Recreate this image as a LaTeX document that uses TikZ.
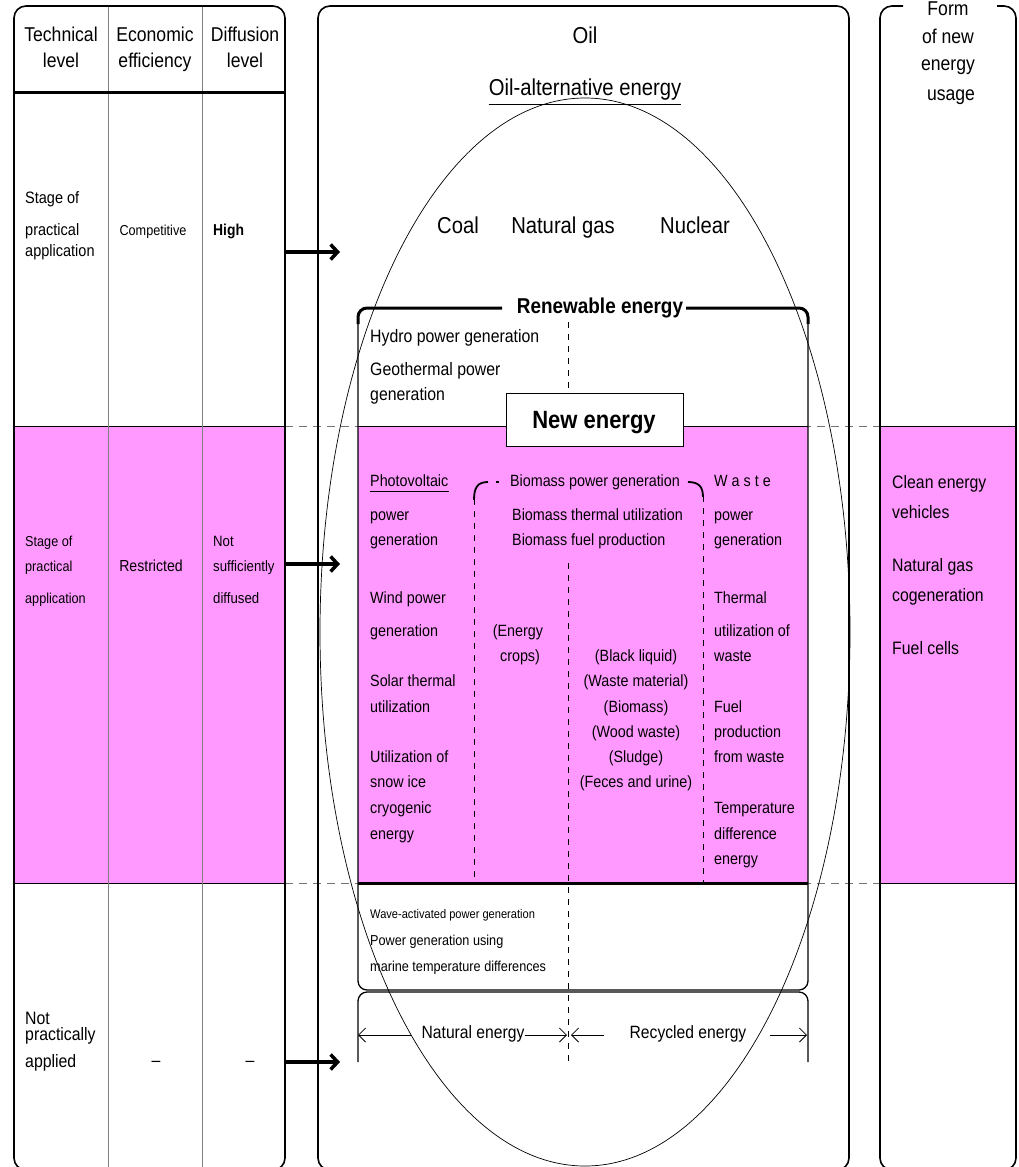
\documentclass[tikz,border=0pt]{standalone}
\usepackage{fontspec}
\setmainfont{Liberation Sans}[FakeStretch=0.88]
\usetikzlibrary{arrows.meta}
\definecolor{pinkfill}{RGB}{255,153,255}
\newcommand\fsz[1]{\fontsize{#1}{#1}\selectfont}
\begin{document}
\begin{tikzpicture}[x=1pt,y=-1pt,
  lt/.style={inner sep=0pt, anchor=mid west},
  ct/.style={inner sep=0pt, anchor=mid},
  panel/.style={line width=1.6pt, rounded corners=12pt},
  colrule/.style={draw=gray, line width=0.9pt},
  band/.style={dash pattern=on 8pt off 6pt, draw=gray!90!black, line width=0.9pt},
  vdash/.style={dash pattern=on 6pt off 6pt, line width=0.8pt},
  bigarrow/.style={line width=3.5pt, -{Straight Barb[length=7pt,width=15pt]}},
  spanarrow/.style={line width=0.8pt, -{Straight Barb[length=7pt,width=14pt]}},
  hdr/.style={font=\fsz{20}},
  big/.style={font=\fsz{23}},
  mid/.style={font=\fsz{18}},
  pk/.style={font=\fsz{16.3}},
]
\useasboundingbox (0,0) rectangle (1018,1167);
\fill[white] (0,0) rectangle (1018,1167);

% pink band of "stage of practical application / restricted"
\fill[pinkfill] (14,426) rectangle (285,883);
\fill[pinkfill] (358,426) rectangle (808,883);
\fill[pinkfill] (880,426) rectangle (1016,883);

% band boundaries
\draw[band] (285,426) -- (880,426);
\draw[band] (285,883) -- (880,883);
\draw[line width=0.9pt] (14,426) -- (285,426) (14,883) -- (285,883);
\draw[line width=0.9pt] (880,426) -- (1016,426) (880,883) -- (1016,883);
\draw[line width=0.9pt] (358,426) -- (808,426);
\draw[line width=3pt] (358,883) -- (808,883);

% left table
\draw[colrule] (108,6) -- (108,1167) (202,6) -- (202,1167);
\draw[line width=3pt] (14,92) -- (285,92);

% three panels
\draw[panel] (14,6) rectangle (285,1170);
\draw[panel] (318,6) rectangle (849,1170);
\draw[panel] (903,6) -- (880,6) -- (880,1170) -- (1016,1170) -- (1016,6) -- (997,6);

% renewable energy frame
\draw[line width=1.3pt, rounded corners=9pt] (358,322) -- (358,990) -- (808,990) -- (808,322);
\draw[line width=3pt, rounded corners=9pt] (502,308) -- (358,308) -- (358,324);
\draw[line width=3pt, rounded corners=9pt] (686,308) -- (808,308) -- (808,324);
% natural / recycled bracket
\draw[line width=1.3pt, rounded corners=9pt] (358,1062) -- (358,992) -- (808,992) -- (808,1062);

% biomass bracket
\draw[vdash] (474,499) -- (474,883);
\draw[vdash] (703,496) -- (703,883);
\draw[line width=1.8pt] (474,500) .. controls (474,487) and (478,482) .. (488,482);
\draw[line width=1.8pt] (496,482) -- (499,482);
\draw[line width=1.8pt] (688,482) .. controls (698,482) and (703,486) .. (703,497);

% oil-alternative energy ellipse
\draw[line width=0.7pt] (585,632) ellipse [x radius=265, y radius=534];

% new energy box
\node[draw, fill=white, line width=0.9pt, minimum width=177pt, minimum height=53pt, inner sep=0pt] (newbox) at (594.5,419.5) {};
\node[ct, font=\bfseries\fsz{25}] (newtxt) at (594,426) {New energy};

% natural / recycled divider
\coordinate (divtop) at (568,322);
\coordinate (divmid) at (568,563);
\coordinate (divbot) at (568,1062);
\draw[vdash] (divtop) -- (newbox.north -| divtop);
\draw[vdash] (divmid) -- (divbot);

% ---- left table text ----
\node[ct, hdr] (h1a) at (61,39) {Technical};
\node[ct, hdr] (h1b) at (61,65) {level};
\node[ct, hdr] (h2a) at (155,39) {Economic};
\node[ct, hdr] (h2b) at (155,65) {efficiency};
\node[ct, hdr] (h3a) at (245,39) {Diffusion};
\node[ct, hdr] (h3b) at (245,65) {level};

\node[lt, font=\fsz{16.5}] (s1a) at (25,201) {Stage of};
\node[lt, font=\fsz{16.5}] (s1b) at (25,233) {practical};
\node[lt, font=\fsz{16.5}] (s1c) at (25,254) {application};
\node[ct, font=\fsz{14.4}] (e1) at (153,233) {Competitive};
\node[lt, font=\bfseries\fsz{15.8}] (d1) at (213,233) {High};

\node[lt, font=\fsz{14.4}] (s2a) at (25,544) {Stage of};
\node[lt, font=\fsz{14.4}] (s2b) at (25,569) {practical};
\node[lt, font=\fsz{14.4}] (s2c) at (25,601) {application};
\node[ct, font=\fsz{16}] (e2) at (151,569) {Restricted};
\node[lt, font=\fsz{15}] (d2a) at (213,544) {Not};
\node[lt, font=\fsz{15}] (d2b) at (213,569) {sufficiently};
\node[lt, font=\fsz{15}] (d2c) at (213,601) {diffused};

\node[lt, mid] (s3a) at (25,1022) {Not};
\node[lt, mid] (s3b) at (25,1038) {practically};
\node[lt, mid] (s3c) at (25,1065) {applied};
\node[ct, mid] (e3) at (156,1064) {–};
\node[ct, mid] (d3) at (250,1064) {–};

% arrows into the energy panel
\coordinate (a1s) at (285,252); \coordinate (a1e) at (340,252);
\coordinate (a2s) at (285,564); \coordinate (a2e) at (340,564);
\coordinate (a3s) at (285,1062); \coordinate (a3e) at (340,1062);
\draw[bigarrow] (a1s) -- (a1e);
\draw[bigarrow] (a2s) -- (a2e);
\draw[bigarrow] (a3s) -- (a3e);

% ---- middle panel text ----
\node[ct, big] (oil) at (585,41) {Oil};
\node[ct, big] (oalt) at (585,93) {Oil-alternative energy};
\draw[line width=0.8pt] ([yshift=-9pt]oalt.base west) -- ([yshift=-9pt]oalt.base east);
\node[ct, big] (coal) at (458,231) {Coal};
\node[ct, big] (ngas) at (563,231) {Natural gas};
\node[ct, big] (nucl) at (695,231) {Nuclear};

\node[ct, font=\bfseries\fsz{21.5}] (renew) at (600,311) {Renewable energy};
\node[lt, mid] (hydro) at (370,340) {Hydro power generation};
\node[lt, mid] (geo1) at (370,373) {Geothermal power};
\node[lt, mid] (geo2) at (370,398) {generation};

% natural energy column
\node[lt, pk] (pv) at (370,484) {Photovoltaic};
\draw[line width=0.7pt] ([yshift=-4.5pt]pv.base west) -- ([yshift=-4.5pt]pv.base east);
\node[lt, pk] (pv2) at (370,518) {power};
\node[lt, pk] (pv3) at (370,543) {generation};
\node[lt, pk] (wd1) at (370,601) {Wind power};
\node[lt, pk] (wd2) at (370,634) {generation};
\node[lt, pk] (st1) at (370,684) {Solar thermal};
\node[lt, pk] (st2) at (370,710) {utilization};
\node[lt, pk] (sn1) at (370,760) {Utilization of};
\node[lt, pk] (sn2) at (370,785) {snow ice};
\node[lt, pk] (sn3) at (370,811) {cryogenic};
\node[lt, pk] (sn4) at (370,837) {energy};

% biomass column
\node[ct, pk] (bm1) at (595,484) {Biomass power generation};
\node[lt, pk] (bm2) at (512,518) {Biomass thermal utilization};
\node[lt, pk] (bm3) at (512,543) {Biomass fuel production};
\node[ct, pk] (ec1) at (518,634) {(Energy};
\node[ct, pk] (ec2) at (520,659) {crops)};
\node[ct, pk] (bl1) at (636,659) {(Black liquid)};
\node[ct, pk] (bl2) at (636,684) {(Waste material)};
\node[ct, pk] (bl3) at (636,710) {(Biomass)};
\node[ct, pk] (bl4) at (636,735) {(Wood waste)};
\node[ct, pk] (bl5) at (636,760) {(Sludge)};
\node[ct, pk] (bl6) at (636,785) {(Feces and urine)};

% waste column
\node[lt, pk] (ws1) at (714,484) {W a s t e};
\node[lt, pk] (ws2) at (714,518) {power};
\node[lt, pk] (ws3) at (714,543) {generation};
\node[lt, pk] (tw1) at (714,601) {Thermal};
\node[lt, pk] (tw2) at (714,634) {utilization of};
\node[lt, pk] (tw3) at (714,659) {waste};
\node[lt, pk] (fw1) at (714,710) {Fuel};
\node[lt, pk] (fw2) at (714,735) {production};
\node[lt, pk] (fw3) at (714,760) {from waste};
\node[lt, pk] (td1) at (714,811) {Temperature};
\node[lt, pk] (td2) at (714,837) {difference};
\node[lt, pk] (td3) at (714,862) {energy};

% not yet practical
\node[lt, font=\fsz{12.6}] (wave) at (370,916) {Wave-activated power generation};
\node[lt, font=\fsz{14.4}] (otec1) at (370,943) {Power generation using};
\node[lt, font=\fsz{14.4}] (otec2) at (370,969) {marine temperature differences};

% natural / recycled spans
\node[ct, font=\fsz{17.8}] (natE) at (473,1036) {Natural energy};
\node[ct, font=\fsz{17.8}] (recE) at (688,1036) {Recycled energy};
\coordinate (natL) at (358,1035); \coordinate (natR) at (567,1035);
\coordinate (recL) at (571,1035); \coordinate (recR) at (807,1035);
\draw[spanarrow] (natE.west |- natL) ++(-10,0) -- (natL);
\draw[spanarrow] (natE.east |- natR) -- (natR);
\draw[spanarrow] (recE.west |- recL) ++(-25,0) -- (recL);
\draw[spanarrow] (recE.east |- recR) ++(23,0) -- (recR);

% ---- right panel ----
\node[ct, hdr] (f1) at (948,13) {Form};
\node[ct, hdr] (f2) at (948,41) {of new};
\node[ct, hdr] (f3) at (948,68) {energy};
\node[ct, hdr] (f4) at (951,98) {usage};
\node[lt, mid] (u1) at (892,486) {Clean energy};
\node[lt, mid] (u2) at (892,516) {vehicles};
\node[lt, mid] (u3) at (892,569) {Natural gas};
\node[lt, mid] (u4) at (892,599) {cogeneration};
\node[lt, mid] (u5) at (892,652) {Fuel cells};
\end{tikzpicture}
\end{document}
